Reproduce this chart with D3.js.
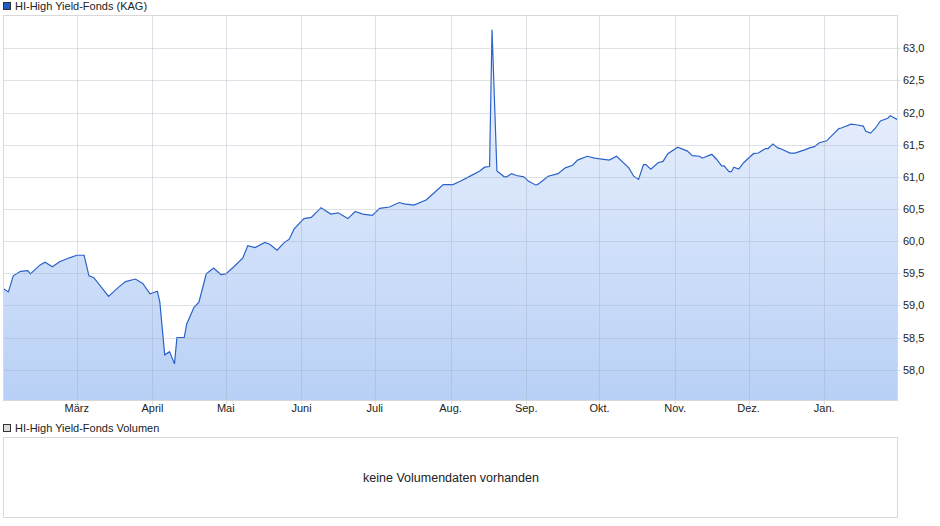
<!DOCTYPE html>
<html>
<head>
<meta charset="utf-8">
<script src="https://cdn.jsdelivr.net/npm/d3@7"></script>
<style>
  body { margin: 0; background: #fff; }
  text { font-family: "Liberation Sans", Arial, sans-serif; font-size: 11px; fill: #222; }
</style>
</head>
<body>
<svg id="chart" width="940" height="526"></svg>
<script>
// days since 2023-01-30 and fund price
const startDate = new Date(2023, 0, 30);
const days = [0, 2, 4, 7, 10, 11, 15, 17, 20, 23, 27, 30, 33, 35, 37, 43, 47, 50, 54, 57,
  60, 63, 64, 66, 68, 70, 71, 74, 75, 78, 80, 82, 83, 86, 89, 91, 94, 98, 100, 103,
  107, 109, 112, 115, 117, 119, 123, 126, 130, 134, 137, 141, 144, 147, 151, 154, 158, 162, 164, 168,
  173, 176, 180, 184, 187, 192, 195, 197, 199, 200, 202, 205, 206, 208, 210, 213, 215, 218, 219, 223,
  227, 230, 233, 235, 239, 242, 248, 251, 256, 258, 260, 262, 263, 265, 268, 270, 272, 276, 280, 282,
  285, 286, 290, 292, 294, 295, 297, 298, 299, 301, 303, 307, 309, 312, 313, 315, 317, 318, 322, 324,
  328, 330, 332, 334, 337, 342, 343, 347, 349, 352, 353, 355, 357, 359, 362, 363, 364, 366];
const values = [59.26, 59.21, 59.46, 59.53, 59.54, 59.49, 59.63, 59.67, 59.60, 59.68, 59.74, 59.78, 59.78, 59.46, 59.43, 59.14, 59.28, 59.37, 59.41, 59.34,
  59.18, 59.22, 59.05, 58.23, 58.28, 58.09, 58.50, 58.50, 58.71, 58.97, 59.05, 59.34, 59.49, 59.58, 59.48, 59.49, 59.59, 59.74, 59.93, 59.90,
  59.98, 59.95, 59.86, 59.98, 60.03, 60.19, 60.35, 60.37, 60.52, 60.42, 60.44, 60.35, 60.46, 60.42, 60.40, 60.51, 60.53, 60.60, 60.58, 60.56,
  60.64, 60.74, 60.88, 60.88, 60.93, 61.03, 61.09, 61.15, 61.16, 63.29, 61.09, 61.00, 61.00, 61.05, 61.02, 61.00, 60.93, 60.87, 60.89, 61.01,
  61.05, 61.14, 61.18, 61.26, 61.32, 61.29, 61.26, 61.32, 61.14, 61.01, 60.96, 61.19, 61.19, 61.12, 61.22, 61.24, 61.36, 61.46, 61.40, 61.33,
  61.32, 61.29, 61.35, 61.27, 61.17, 61.17, 61.08, 61.08, 61.15, 61.12, 61.22, 61.36, 61.37, 61.44, 61.44, 61.51, 61.45, 61.44, 61.37, 61.37,
  61.42, 61.45, 61.47, 61.53, 61.56, 61.75, 61.76, 61.82, 61.81, 61.79, 61.71, 61.68, 61.76, 61.87, 61.91, 61.95, 61.93, 61.89];
const monthLabels = ["März", "April", "Mai", "Juni", "Juli", "Aug.", "Sep.", "Okt.", "Nov.", "Dez.", "Jan."];
const yTicks = [58.0, 58.5, 59.0, 59.5, 60.0, 60.5, 61.0, 61.5, 62.0, 62.5, 63.0];

const data = days.map((d, i) => ({ date: d3.timeDay.offset(startDate, d), v: values[i] }));

const svg = d3.select("#chart");
const L = 3.5, R = 897.5, T = 15.5, B = 400.5;

const x = d3.scaleTime()
  .domain([startDate, d3.timeDay.offset(startDate, 366)])
  .range([L, R]);
const y = d3.scaleLinear().domain([57.52, 63.51]).range([B, T]);

const defs = svg.append("defs");
const grad = defs.append("linearGradient").attr("id", "fill").attr("x1", 0).attr("x2", 0).attr("y1", 0).attr("y2", 1);
grad.append("stop").attr("offset", "0%").attr("stop-color", "#f2f6fe");
grad.append("stop").attr("offset", "100%").attr("stop-color", "#b8d0f6");
defs.append("clipPath").attr("id", "clip").append("rect")
  .attr("x", L).attr("y", T).attr("width", R - L).attr("height", B - T);

// legend 1
svg.append("rect").attr("x", 3.5).attr("y", 2.5).attr("width", 7).attr("height", 7)
  .attr("fill", "#1f5bc6").attr("stroke", "#333");
svg.append("text").attr("x", 15).attr("y", 10).text("HI-High Yield-Fonds (KAG)");

// area + line
const g = svg.append("g").attr("clip-path", "url(#clip)");
g.append("path").datum(data)
  .attr("fill", "url(#fill)")
  .attr("d", d3.area().x(d => x(d.date)).y0(B).y1(d => y(d.v)));

// grid
const months = monthLabels.map((m, i) => new Date(2023, 2 + i, 1));
const grid = svg.append("g");
grid.selectAll(".vg").data(months).join("line")
  .attr("x1", d => Math.round(x(d)) + 0.5).attr("x2", d => Math.round(x(d)) + 0.5)
  .attr("y1", T).attr("y2", B + 4)
  .attr("stroke", "#a0a8b8").attr("stroke-opacity", 0.35);
grid.selectAll(".hg").data(yTicks).join("line")
  .attr("x1", L).attr("x2", R + 3)
  .attr("y1", d => Math.round(y(d)) + 0.5).attr("y2", d => Math.round(y(d)) + 0.5)
  .attr("stroke", "#a0a8b8").attr("stroke-opacity", 0.35);

g.append("path").datum(data)
  .attr("fill", "none").attr("stroke", "#2a62c8").attr("stroke-width", 1.2)
  .attr("d", d3.line().x(d => x(d.date)).y(d => y(d.v)));

svg.append("rect").attr("x", L).attr("y", T).attr("width", R - L).attr("height", B - T)
  .attr("fill", "none").attr("stroke", "#d8d8d8");

// axis labels
svg.selectAll(".ml").data(months).join("text")
  .attr("x", d => x(d)).attr("y", 412).attr("text-anchor", "middle")
  .text((d, i) => monthLabels[i]);
svg.selectAll(".yl").data(yTicks).join("text")
  .attr("x", 903).attr("y", d => y(d) + 4)
  .text(d => d3.format(".1f")(d).replace(".", ","));

// volume panel
svg.append("rect").attr("x", 3.5).attr("y", 424.5).attr("width", 7).attr("height", 7)
  .attr("fill", "#ddd").attr("stroke", "#333");
svg.append("text").attr("x", 15).attr("y", 432).text("HI-High Yield-Fonds Volumen");
svg.append("rect").attr("x", L).attr("y", 437.5).attr("width", R - L).attr("height", 80)
  .attr("fill", "none").attr("stroke", "#d8d8d8");
svg.append("text").attr("x", 451).attr("y", 482).attr("text-anchor", "middle")
  .style("font-size", "12.5px").text("keine Volumendaten vorhanden");
</script>
</body>
</html>
